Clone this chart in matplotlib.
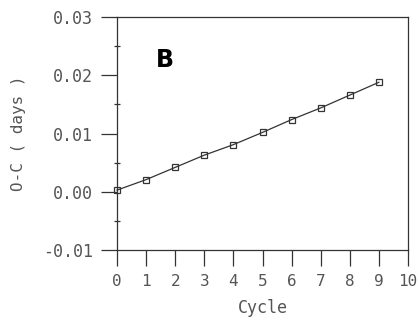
import numpy as np
import matplotlib.pyplot as plt

cycle = [0, 1, 2, 3, 4, 5, 6, 7, 8, 9]
o_c = [0.0003, 0.0021, 0.0042, 0.0063, 0.0081, 0.0102, 0.0124, 0.0144, 0.0166, 0.0188]
yticks = [-0.01, 0.00, 0.01, 0.02, 0.03]
ytick_labels = ["-0.01", "0.00", "0.01", "0.02", "0.03"]
xticks = list(range(11))

ink = "#333333"
txt = "#555555"
plt.rcParams['font.family'] = ['DejaVu Sans Mono']

fig = plt.figure(figsize=(4.18, 3.24), dpi=100)
ax = fig.add_axes([0.280, 0.228, 0.696, 0.7195])

ax.plot(cycle, o_c, color=ink, lw=0.9, marker='s', ms=5, mfc='none', mec=ink, mew=0.9,
        clip_on=False)

ax.set_xlim(0, 10)
ax.set_ylim(-0.01, 0.03)
ax.set_xticks(xticks)
ax.set_xticklabels([str(t) for t in xticks], fontsize=11.5, color=txt)
ax.set_yticks(yticks)
ax.set_yticklabels(ytick_labels, fontsize=12, color=txt)
ax.set_yticks([-0.005, 0.005, 0.015, 0.025], minor=True)

ax.tick_params(axis='y', which='major', direction='out', length=11.5, width=0.9,
               colors=ink, pad=6)
ax.tick_params(axis='x', which='major', direction='out', length=11.5, width=0.9,
               colors=ink, pad=6)
ax.tick_params(axis='y', which='minor', direction='inout', length=5, width=0.9, color=ink)
for lab in ax.get_xticklabels() + ax.get_yticklabels():
    lab.set_color(txt)
for s in ax.spines.values():
    s.set_color(ink)
    s.set_linewidth(0.9)

ax.set_xlabel("Cycle", fontsize=12, color=txt, labelpad=7)
ax.set_ylabel("O-C ( days )", fontsize=11.5, color=txt, labelpad=12)
ax.text(1.35, 0.0226, "B", fontsize=17, fontweight='bold', family='DejaVu Sans',
        color='black', va='center')

fig.savefig("out.png", dpi=100)
